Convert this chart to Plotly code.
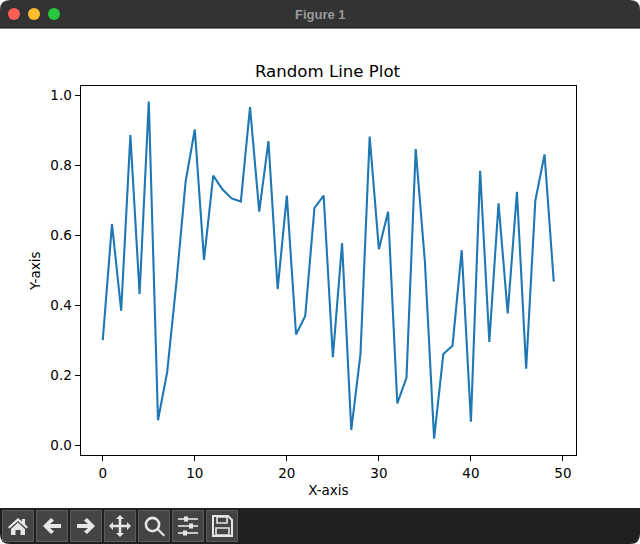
import plotly.graph_objects as go

x_values = list(range(50))
y_values = [0.301, 0.633, 0.385, 0.887, 0.433, 0.983, 0.072, 0.21, 0.465, 0.754,
            0.903, 0.53, 0.771, 0.732, 0.706, 0.697, 0.967, 0.668, 0.87, 0.447,
            0.714, 0.317, 0.37, 0.679, 0.714, 0.252, 0.578, 0.044, 0.261, 0.883,
            0.561, 0.668, 0.12, 0.193, 0.847, 0.525, 0.019, 0.261, 0.285, 0.558,
            0.068, 0.785, 0.296, 0.692, 0.377, 0.725, 0.219, 0.70, 0.832, 0.468]
x_ticks = [0, 10, 20, 30, 40, 50]
y_ticks = [0.0, 0.2, 0.4, 0.6, 0.8, 1.0]
title_text = "Random Line Plot"
x_label = "X-axis"
y_label = "Y-axis"
window_title = "Figure 1"
FONT = "DejaVu Sans"
W, H = 640, 544
L, R, T, B = 80.5, 576.3, 86.3, 455.3

fig = go.Figure()
fig.add_trace(go.Scatter(x=x_values, y=y_values, mode="lines", showlegend=False,
                         line=dict(color="#1f77b4", width=2.1), hoverinfo="skip"))
# invisible overlay trace activates the full-window pixel axes used by the window chrome
fig.add_trace(go.Scatter(x=[0], y=[0], xaxis="x2", yaxis="y2", mode="none",
                         showlegend=False, hoverinfo="skip"))

shapes = []
ICON = "#e6e6e6"

def shift(cx, cy, d):
    out, n = [], 0
    for t in d.split():
        if t.isalpha():
            out.append(t)
        else:
            out.append(f"{float(t) + (cx if n % 2 == 0 else cy):.2f}")
            n += 1
    return " ".join(out)

def path(cx, cy, d, fill=ICON, line=None, width=0):
    shapes.append(dict(type="path", xref="x2", yref="y2", path=shift(cx, cy, d),
                       fillcolor=fill, line=dict(color=line or fill, width=width)))

def rect(x0, y0, x1, y1, fill, line=None, width=0):
    shapes.append(dict(type="rect", xref="x2", yref="y2", x0=x0, y0=y0, x1=x1, y1=y1,
                       fillcolor=fill, line=dict(color=line or fill, width=width)))

def circle(cx, cy, r, fill, line=None, width=0):
    shapes.append(dict(type="circle", xref="x2", yref="y2", x0=cx - r, y0=cy - r,
                       x1=cx + r, y1=cy + r, fillcolor=fill,
                       line=dict(color=line or fill, width=width)))

# title bar and toolbar with rounded window corners
path(0, 0, "M 0 28 L 0 10 Q 0 0 10 0 L 630 0 Q 640 0 640 10 L 640 28 Z", fill="#333333")
rect(0, 27.5, 640, 28.5, "#0c0c0c")
path(0, 0, "M 0 508 L 640 508 L 640 534 Q 640 544 630 544 L 10 544 Q 0 544 0 534 Z", fill="#202020")
circle(14, 14, 6, "#ff5f57")
circle(34, 14, 6, "#febc2e")
circle(54, 14, 6, "#28c840")

# toolbar buttons
centres = [18, 52, 86, 120, 154, 188, 222]
for c in centres:
    rect(c - 15.5, 510.5, c + 15.5, 541.5, "#444444", "#5c5c5c", 1)

CY = 526
# home
path(18, CY, "M -10 1 L 0 -8 L 4 -4.5 L 4 -7 L 7 -7 L 7 -2 L 10 1 L 8.5 2.5 L 0 -5 L -8.5 2.5 Z")
path(18, CY, "M -7 3 L 0 -3.5 L 7 3 L 7 9 L 2.5 9 L 2.5 4 L -2.5 4 L -2.5 9 L -7 9 Z")
# back / forward
path(52, CY, "M -9 0 L -1 -8 L 2 -5.5 L -2 -2 L 9 -2 L 9 2 L -2 2 L 2 5.5 L -1 8 Z")
path(86, CY, "M 9 0 L 1 -8 L -2 -5.5 L 2 -2 L -9 -2 L -9 2 L 2 2 L -2 5.5 L 1 8 Z")
# move
path(120, CY, "M 0 -11 L 4 -7 L 1.3 -7 L 1.3 -1.3 L 7 -1.3 L 7 -4 L 11 0 L 7 4 L 7 1.3 L 1.3 1.3 "
              "L 1.3 7 L 4 7 L 0 11 L -4 7 L -1.3 7 L -1.3 1.3 L -7 1.3 L -7 4 L -11 0 L -7 -4 "
              "L -7 -1.3 L -1.3 -1.3 L -1.3 -7 L -4 -7 Z")
# zoom
circle(152.5, 524.5, 6.6, "rgba(0,0,0,0)", ICON, 2.6)
path(154, CY, "M 2.5 3.5 L 4 2 L 11 9 L 9.5 10.5 Z")
# sliders
for dy, k in [(-7, -2), (0, 3), (7, -3)]:
    rect(188 - 10, CY + dy - 0.8, 188 + 10, CY + dy + 0.8, ICON)
    rect(188 + k - 2, CY + dy - 2.5, 188 + k + 2, CY + dy + 2.5, ICON)
# save
path(222, CY, "M -9 -10 L 6 -10 L 10 -6 L 10 10 L -9 10 Z", fill="rgba(0,0,0,0)", line=ICON, width=2)
path(222, CY, "M -5 -9 L 5 -9 L 5 -3 L -5 -3 Z", fill="rgba(0,0,0,0)", line=ICON, width=1.6)
path(222, CY, "M -6 2 L 7 2 L 7 9 L -6 9 Z", fill="rgba(0,0,0,0)", line=ICON, width=1.6)

axis_common = dict(showgrid=False, zeroline=False, showline=True, mirror=True, linecolor="black",
                   linewidth=1, ticks="outside", ticklen=5, tickwidth=1, tickcolor="black",
                   tickfont=dict(family=FONT, size=13.5, color="black"))

fig.update_layout(
    width=W, height=H, margin=dict(l=0, r=0, t=0, b=0, pad=0), autosize=False,
    paper_bgcolor="white", plot_bgcolor="rgba(0,0,0,0)", showlegend=False,
    font=dict(family=FONT, color="black"),
    title=dict(text=title_text, font=dict(family=FONT, size=16.6, color="black"),
               x=327.5 / W, xanchor="center", y=1 - 71 / H, yanchor="middle", yref="container"),
    xaxis=dict(domain=[L / W, R / W], range=[-2.42, 51.45], tickvals=x_ticks,
               title=dict(text=x_label, font=dict(family=FONT, size=13.5, color="black"), standoff=6),
               **axis_common),
    yaxis=dict(domain=[1 - B / H, 1 - T / H], range=[-0.0283, 1.0265], tickvals=y_ticks,
               tickformat=".1f",
               title=dict(text=y_label, font=dict(family=FONT, size=13.5, color="black"), standoff=6),
               **axis_common),
    xaxis2=dict(domain=[0, 1], range=[0, W], visible=False, fixedrange=True),
    yaxis2=dict(domain=[0, 1], range=[H, 0], visible=False, fixedrange=True),
    shapes=shapes,
    annotations=[dict(text=f"<b>{window_title}</b>", xref="x2", yref="y2", x=320, y=14, showarrow=False,
                      xanchor="center", yanchor="middle",
                      font=dict(family="Liberation Sans", size=13, color="#9a9a9a"))],
)

fig.write_html("out.html", config=dict(displayModeBar=False),
               post_script="document.body.style.margin='0';document.documentElement.style.overflow='hidden';")
